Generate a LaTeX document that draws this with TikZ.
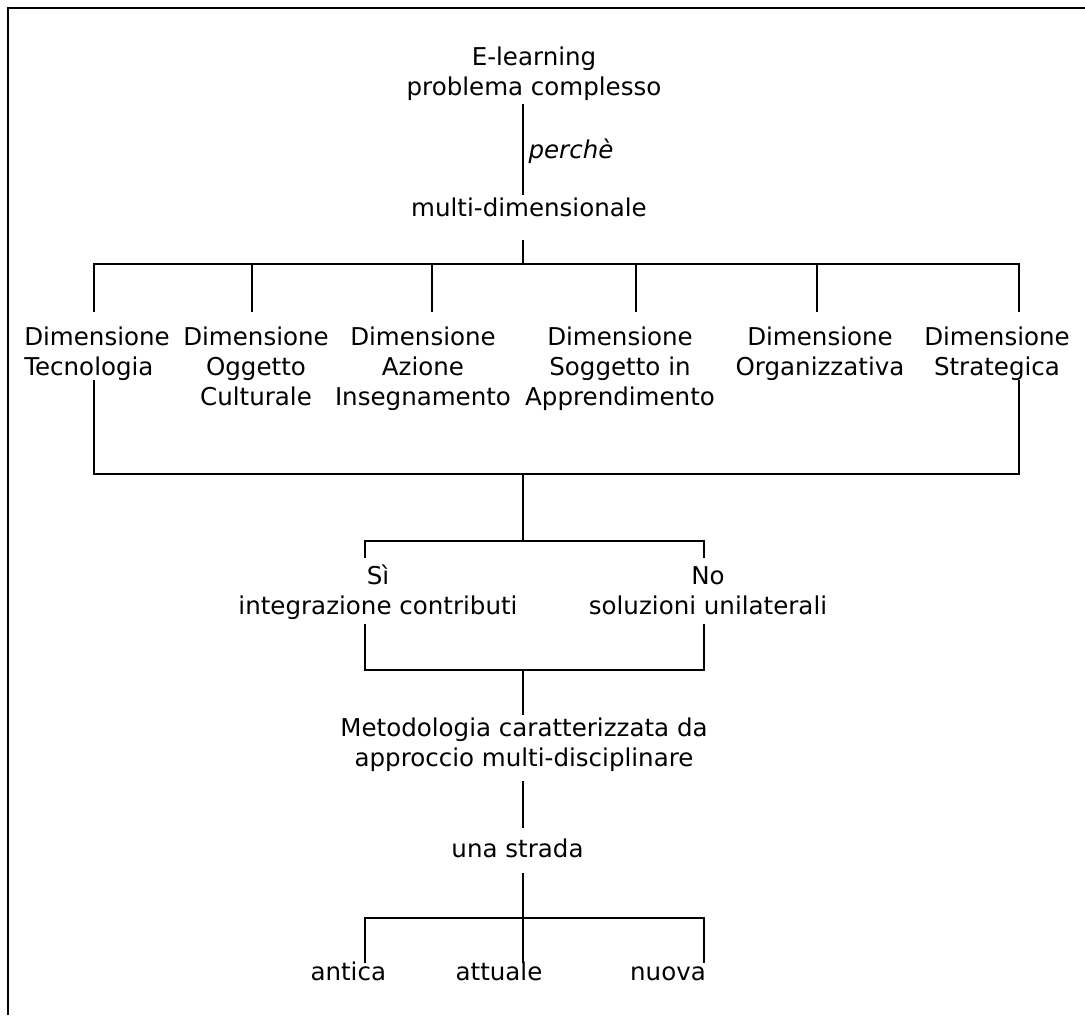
\documentclass[tikz,border=0pt]{standalone}
\usepackage{fontspec}
\setmainfont{DejaVu Sans}
\usetikzlibrary{calc}

\begin{document}
\begin{tikzpicture}
[
x=0.75pt,
y=-0.75pt,
every node/.style={
	inner sep=0pt,
	align=center,
	anchor=base,
	font=\fontsize{18.4pt}{22.5pt}\selectfont},
regLine/.style={
	line width=1.5pt,
	line cap=rect}
]
\useasboundingbox (0,0) rectangle (1085,1015);

%frame, only top and left are visible
\draw [line width=1.5pt] (8,1015) -- (8,8) -- (1085,8);

%nodes, placed at the baseline of their last line
\node (top) at (534,95) {E-learning\\problema complesso};
\node[anchor=base west, font=\fontsize{18.4pt}{22.5pt}\selectfont\itshape] (why) at (528.3,158.3) {perchè};
\node (multi) at (529,216.7) {multi-dimensionale};

\node[anchor=base west, align=left] (dTec) at (24,375) {Dimensione\\Tecnologia};
\node (dOgg) at (256,405) {Dimensione\\Oggetto\\Culturale};
\node (dAzi) at (423,405) {Dimensione\\Azione\\Insegnamento};
\node (dSog) at (620,405) {Dimensione\\Soggetto in\\Apprendimento};
\node (dOrg) at (820,375) {Dimensione\\Organizzativa};
\node (dStr) at (997,375) {Dimensione\\Strategica};

\node (si) at (378,614) {Sì\\integrazione contributi};
\node (no) at (708,614) {No\\soluzioni unilaterali};
\node (meth) at (524,766) {Metodologia caratterizzata da\\approccio multi-disciplinare};
\node (road) at (517.5,857.7) {una strada};
\node (old) at (348.3,980) {antica};
\node (now) at (499,980) {attuale};
\node (new) at (668,980) {nuova};

%junctions on the spine
\coordinate (spine) at (523,0);
\coordinate (fork1) at (523,264); %to the dimensions
\coordinate (join1) at (523,474); %dimensions back together
\coordinate (fork2) at (523,541); %si / no
\coordinate (join2) at (523,670);
\coordinate (fork3) at (523,918); %the three roads

%free ends of the branches
\foreach \n/\x in {1/94,2/252,3/432,4/636,5/817,6/1019}
	\coordinate (t\n) at (\x,311);
\coordinate (u1) at (94,381);
\coordinate (u6) at (1019,381);
\coordinate (s1) at (365,557);
\coordinate (s2) at (704,557);
\coordinate (v1) at (365,625);
\coordinate (v2) at (704,625);
\coordinate (w1) at (365,962);
\coordinate (w2) at (523,962);
\coordinate (w3) at (704,962);

%spine
\draw [regLine, shorten <=3.5pt, shorten >=2.5pt] (top.south -| spine) -- (multi.north -| spine);
\draw [regLine, shorten <=17.5pt] (multi.south -| spine) -- (fork1);
\draw [regLine] (join1) -- (fork2);
\draw [regLine, shorten >=2.5pt] (join2) -- (meth.north -| spine);
\draw [regLine, shorten <=8pt, shorten >=9pt] (meth.south -| spine) -- (road.north -| spine);
\draw [regLine, shorten <=11.5pt] (road.south -| spine) -- (fork3);

%dimensions
\draw [regLine] (t1 |- fork1) -- (t6 |- fork1);
\foreach \n in {1,...,6}
	\draw [regLine] (t\n |- fork1) -- (t\n);
\draw [regLine] (u1) -- (u1 |- join1) -- (u6 |- join1) -- (u6);

%si / no
\draw [regLine] (s1) -- (s1 |- fork2) -- (s2 |- fork2) -- (s2);
\draw [regLine] (v1) -- (v1 |- join2) -- (v2 |- join2) -- (v2);

%antica, attuale, nuova
\draw [regLine] (w1) -- (w1 |- fork3) -- (w3 |- fork3) -- (w3);
\draw [regLine] (fork3) -- (w2);

\end{tikzpicture}
\end{document}
